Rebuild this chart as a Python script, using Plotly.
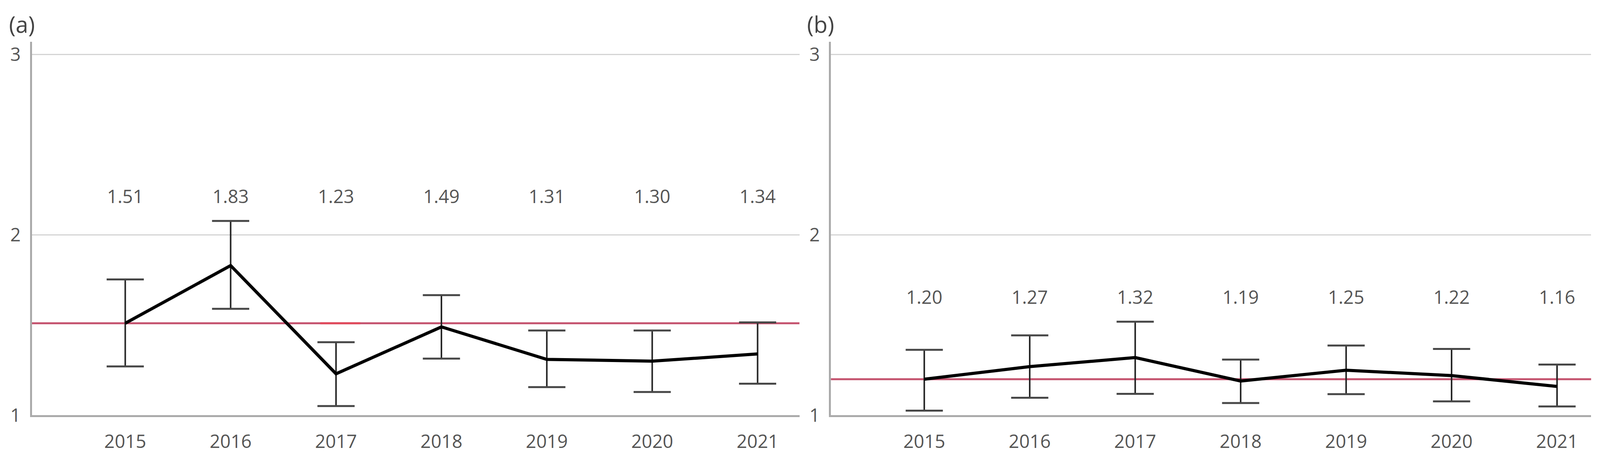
import plotly.graph_objects as go

years = [2015, 2016, 2017, 2018, 2019, 2020, 2021]

# Panel (a)
mean_a = [1.51, 1.83, 1.23, 1.49, 1.31, 1.30, 1.34]
upper_a = [1.753, 2.077, 1.405, 1.666, 1.470, 1.470, 1.515]
lower_a = [1.271, 1.590, 1.051, 1.314, 1.156, 1.129, 1.175]

# Panel (b)
mean_b = [1.20, 1.27, 1.32, 1.19, 1.25, 1.22, 1.16]
upper_b = [1.363, 1.443, 1.519, 1.309, 1.387, 1.368, 1.281]
lower_b = [1.026, 1.097, 1.119, 1.068, 1.117, 1.077, 1.049]

y_ticks = [1, 2, 3]
panel_labels = ["(a)", "(b)"]

W, H = 4319, 1183
FONT = "Open Sans"
TXT = "#555555"

fig = go.Figure()

panels = [
    (mean_a, upper_a, lower_a, "x", "y"),
    (mean_b, upper_b, lower_b, "x2", "y2"),
]

for mean, upper, lower, xa, ya in panels:
    plus = [u - m for u, m in zip(upper, mean)]
    minus = [m - l for m, l in zip(mean, lower)]
    # error bar stems
    fig.add_trace(go.Scatter(
        x=years, y=mean, mode="markers", xaxis=xa, yaxis=ya,
        marker=dict(size=1, color="rgba(0,0,0,0)"),
        error_y=dict(type="data", symmetric=False, array=plus, arrayminus=minus,
                     width=0, thickness=4, color="#262626"),
        showlegend=False, hoverinfo="skip"))
    # caps
    fig.add_trace(go.Scatter(
        x=years + years, y=upper + lower, mode="markers", xaxis=xa, yaxis=ya,
        marker=dict(symbol="line-ew", size=68, line=dict(width=5, color="#474747")),
        showlegend=False, hoverinfo="skip"))
    # mean line
    fig.add_trace(go.Scatter(
        x=years, y=mean, mode="lines", xaxis=xa, yaxis=ya,
        line=dict(color="#000000", width=8),
        showlegend=False, hoverinfo="skip"))
    # value labels above the intervals
    label_y = max(upper) + 0.125
    fig.add_trace(go.Scatter(
        x=years, y=[label_y] * len(years), mode="text", xaxis=xa, yaxis=ya,
        text=[f"{v:.2f}" for v in mean],
        textfont=dict(family=FONT, size=47, color=TXT),
        showlegend=False, hoverinfo="skip"))
    # reference line at first year's mean
    fig.add_shape(type="line", xref=f"{xa} domain", yref=ya,
                  x0=0, x1=1, y0=mean[0], y1=mean[0],
                  line=dict(color="#c4526e", width=5), layer="below")

# small brighter segment on the reference line near 2017 in panel (a)
fig.add_shape(type="line", xref="x", yref="y", x0=2016.85, x1=2017.23,
              y0=mean_a[0], y1=mean_a[0], line=dict(color="#e0485a", width=5),
              layer="below")

y_dom = [(H - 1091) / H, (H - 109) / H]
x_dom_a = [86 / W, 2158 / W]
x_dom_b = [2243 / W, 4295 / W]

axis_common = dict(
    showline=True, linecolor="#aaaaaa", linewidth=5,
    ticks="", zeroline=False,
    tickfont=dict(family=FONT, size=47, color=TXT),
)

fig.update_layout(
    width=W, height=H,
    margin=dict(l=0, r=0, t=0, b=0),
    paper_bgcolor="white", plot_bgcolor="white",
    xaxis=dict(domain=x_dom_a, range=[2014.114, 2021.397], tickvals=years,
               showgrid=False, anchor="y", ticklabelstandoff=22, **axis_common),
    yaxis=dict(domain=y_dom, range=[1, 3.07], tickvals=y_ticks,
               showgrid=True, gridcolor="#d4d4d4", gridwidth=3,
               anchor="x", ticklabelstandoff=14, **axis_common),
    xaxis2=dict(domain=x_dom_b, range=[2014.115, 2021.323], tickvals=years,
                showgrid=False, anchor="y2", ticklabelstandoff=22, **axis_common),
    yaxis2=dict(domain=y_dom, range=[1, 3.07], tickvals=y_ticks,
                showgrid=True, gridcolor="#d4d4d4", gridwidth=3,
                anchor="x2", ticklabelstandoff=14, **axis_common),
    annotations=[
        dict(text=panel_labels[0], xref="paper", yref="paper", x=22 / W, y=(H - 62) / H,
             xanchor="left", yanchor="middle", showarrow=False,
             font=dict(family=FONT, size=58, color="#444444")),
        dict(text=panel_labels[1], xref="paper", yref="paper", x=2176 / W, y=(H - 62) / H,
             xanchor="left", yanchor="middle", showarrow=False,
             font=dict(family=FONT, size=58, color="#444444")),
    ],
)

# fit the figure to the actual browser viewport
post = """
var gd = document.getElementById('{plot_id}');
document.documentElement.style.margin = '0';
document.body.style.margin = '0';
document.body.style.overflow = 'hidden';
Plotly.relayout(gd, {width: window.innerWidth, height: window.innerHeight});
"""

fig.write_html("out.html", config={"displayModeBar": False}, post_script=post)
